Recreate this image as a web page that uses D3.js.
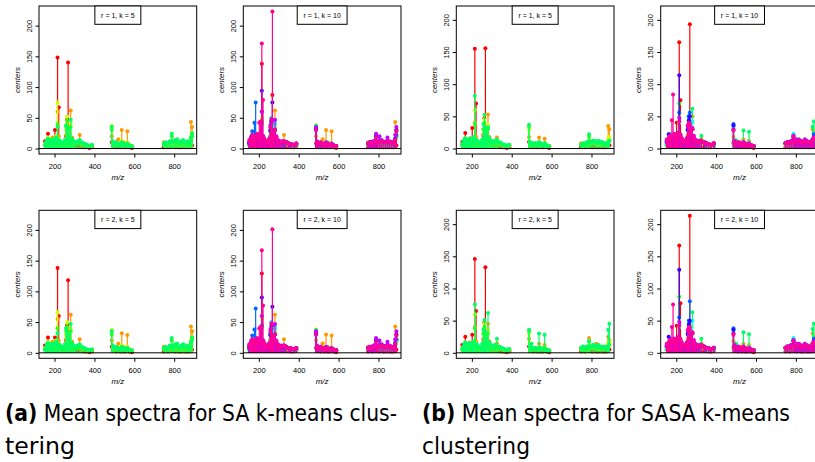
<!DOCTYPE html>
<html><head><meta charset="utf-8">
<script src="https://cdn.jsdelivr.net/npm/d3@7"></script>
<style>body{margin:0;background:#fff}svg{display:block}</style>
</head><body>
<svg id="c" width="815" height="462"></svg>
<script>
// ---- data ----
const mz = [152,157,162,167,172,178,184,190,196,202,208,215,221,228,236,244,252,258,263,268,274,281,288,296,305,315,326,338,350,362,375,388,
  487,492,500,510,520,530,537,545,555,565,575,588,
  748,758,768,778,788,795,805,815,825,835,845,855,865,875,884,890];
const palette = ["#FF0000","#FF9900","#CCFF00","#33FF00","#00FF66","#00FFFF","#0066FF","#3300FF","#CC00FF","#FF0099"];
const xTickValues = [200,400,600,800];
const yTickValues = [0,50,100,150,200];
const captionA = ["(a)", " Mean spectra for SA k-means clus-", "tering"];
const captionB = ["(b)", " Mean spectra for SASA k-means", "clustering"];

const saR1K5 = [
 [12,8,10,24,6,10,5,8, 6,30,10,148,67,8,5,4, 6,20,47,140,10,12,8,6, 5,4,6,3,2,2,1,2, 10,4,3,2,3,2,4,2,2,3,2,1, 2,3,2,3,4,3,2,3, 2,2,3,2,2,2,4,5],
 [6,5,8,14,10,12,8,18, 10,12,15,60,20,10,8,6, 10,22,40,35,25,62,18,12, 10,8,22,6,5,4,3,4, 20,8,6,10,15,8,30,10,8,28,6,4, 10,8,6,8,10,6,8,10, 6,5,8,6,8,10,43,35],
 [8,6,10,18,12,15,10,14, 12,16,20,75,15,10,8,6, 12,30,52,30,20,40,15,10, 10,8,12,8,6,5,4,5, 37,10,6,8,8,6,12,8,6,10,5,4, 6,8,6,8,12,8,10,8, 8,6,8,8,8,6,20,25],
 [5,8,12,15,10,12,8,12, 10,14,16,40,12,10,8,6, 10,36,45,30,20,35,12,10, 8,8,10,8,6,5,4,5, 30,8,6,6,6,5,8,6,5,8,4,3, 6,6,8,10,20,10,12,10, 8,8,10,8,8,6,15,20],
 [6,10,14,16,12,14,10,15, 12,14,18,35,14,12,10,8, 14,38,35,30,22,47,16,12, 10,12,14,10,8,6,5,6, 35,12,8,10,8,6,10,8,6,8,5,4, 8,10,8,12,24,12,14,15, 10,12,14,10,12,10,18,25]
];
const saR1K10 = [
 [10,8,10,12,8,10,6,10, 8,12,15,138,20,10,6,5, 8,20,45,87,15,12,10,6, 5,4,5,3,3,2,2,3, 8,4,3,2,3,2,4,2,2,3,2,1, 2,3,2,3,4,3,2,3, 2,2,3,2,2,2,4,5],
 [6,5,8,12,10,10,8,14, 10,12,15,40,18,10,8,6, 10,22,38,30,25,62,18,12, 10,8,22,6,5,4,3,4, 20,8,6,10,15,8,30,10,8,28,6,4, 10,8,6,8,10,6,8,10, 6,5,8,6,8,10,43,30],
 [5,6,8,12,10,12,8,10, 10,12,14,50,14,10,8,6, 10,28,40,28,20,36,14,10, 8,8,10,8,6,5,4,5, 38,10,6,8,6,5,10,6,5,8,4,3, 6,6,6,8,12,8,10,8, 6,6,8,6,6,6,15,20],
 [5,6,10,12,10,12,8,10, 8,12,14,45,12,10,8,6, 10,30,42,26,18,32,12,10, 8,8,10,8,6,5,4,5, 36,8,6,6,6,5,8,6,5,8,4,3, 6,6,8,8,18,8,10,10, 8,8,8,8,8,6,12,18],
 [6,8,12,14,12,12,10,12, 10,14,16,42,14,12,10,8, 12,34,48,30,22,45,14,12, 10,10,12,10,8,6,5,6, 37,10,8,8,8,6,10,8,6,8,5,4, 8,8,8,10,22,10,12,14, 10,10,12,10,10,8,16,22],
 [8,10,14,16,12,14,10,14, 12,14,16,60,14,12,10,8, 14,30,50,36,22,40,16,12, 10,10,12,10,8,6,5,6, 34,10,8,8,6,6,8,6,6,6,5,4, 8,10,8,10,20,10,12,12, 10,10,12,10,10,8,14,20],
 [10,14,20,28,16,42,75,20, 14,18,22,60,20,14,10,8, 14,28,40,45,22,30,14,12, 10,10,12,10,8,7,6,7, 30,10,8,8,6,6,8,6,6,6,5,4, 8,10,10,12,20,10,14,12, 10,10,14,10,10,8,14,22],
 [8,12,16,20,14,16,12,22, 16,20,24,94,18,12,10,8, 14,30,44,75,22,30,14,12, 10,10,10,10,8,7,6,8, 32,10,8,8,6,6,8,6,6,6,5,4, 8,10,10,12,20,10,12,12, 10,10,12,10,10,8,16,30],
 [10,14,18,22,16,18,14,22, 18,22,24,60,20,14,12,10, 16,38,40,46,24,47,20,14, 12,12,12,10,8,7,6,8, 35,12,8,10,8,6,10,8,6,8,5,4, 8,10,10,12,24,12,20,14, 12,10,18,12,10,10,22,35],
 [14,12,16,22,18,20,16,24, 18,42,44,171,79,16,12,10, 14,34,48,223,24,30,18,12, 10,10,12,10,8,7,6,8, 30,10,8,8,8,6,8,6,6,6,5,4, 8,10,8,10,18,10,12,12, 10,10,12,10,10,8,14,28]
];
const saR2K5 = [
 [12,8,10,25,6,10,5,8, 6,25,10,138,60,8,5,4, 6,20,45,118,10,12,8,6, 5,4,6,3,2,2,1,2, 10,4,3,2,3,2,4,2,2,3,2,1, 2,3,2,3,4,3,2,3, 2,2,3,2,2,2,4,5],
 [6,5,8,14,10,12,8,18, 10,12,15,55,20,10,8,6, 10,22,40,35,25,62,18,12, 10,8,22,6,5,4,3,4, 20,8,6,10,15,8,32,10,8,29,6,4, 10,8,6,8,10,6,8,10, 6,5,8,6,8,10,43,35],
 [8,6,10,18,12,15,10,14, 12,16,20,66,15,10,8,6, 12,30,50,30,20,40,15,10, 10,8,12,8,6,5,4,5, 37,10,6,8,8,6,12,8,6,10,5,4, 6,8,6,8,12,8,10,8, 8,6,8,8,8,6,20,25],
 [5,8,12,15,10,12,8,12, 10,14,16,40,12,10,8,6, 10,36,42,30,20,35,12,10, 8,8,10,8,6,5,4,5, 30,8,6,6,6,5,8,6,5,8,4,3, 6,6,8,10,20,10,12,10, 8,8,10,8,8,6,15,20],
 [6,10,14,16,12,14,10,15, 12,14,18,32,14,12,10,8, 14,40,34,30,22,47,16,12, 10,12,14,10,8,6,5,6, 35,12,8,10,8,6,10,8,6,8,5,4, 8,10,8,12,24,12,14,15, 10,12,14,10,12,10,18,25]
];
const saR2K10 = [
 [10,8,10,12,8,10,6,10, 8,12,15,129,20,10,6,5, 8,20,40,45,15,12,10,6, 5,4,5,3,3,2,2,3, 8,4,3,2,3,2,4,2,2,3,2,1, 2,3,2,3,4,3,2,3, 2,2,3,2,2,2,4,5],
 [6,5,8,12,10,10,8,14, 10,12,15,40,18,10,8,6, 10,22,38,30,25,62,18,12, 10,8,22,6,5,4,3,4, 20,8,6,10,15,8,30,10,8,28,6,4, 10,8,6,8,10,6,8,10, 6,5,8,6,8,10,43,30],
 [5,6,8,12,10,12,8,10, 10,12,14,55,14,10,8,6, 10,28,40,28,20,36,14,10, 8,8,10,8,6,5,4,5, 38,10,6,8,6,5,10,6,5,8,4,3, 6,6,6,8,12,8,10,8, 6,6,8,6,6,6,15,20],
 [5,6,10,12,10,12,8,10, 8,12,14,45,12,10,8,6, 10,30,42,26,18,32,12,10, 8,8,10,8,6,5,4,5, 36,8,6,6,6,5,8,6,5,8,4,3, 6,6,8,8,18,8,10,10, 8,8,8,8,8,6,12,18],
 [6,8,12,14,12,12,10,12, 10,14,16,42,14,12,10,8, 12,34,48,30,22,45,14,12, 10,10,12,10,8,6,5,6, 37,10,8,8,8,6,10,8,6,8,5,4, 8,8,8,10,22,10,12,14, 10,10,12,10,10,8,16,22],
 [8,10,14,16,12,14,10,14, 12,14,16,60,14,12,10,8, 14,30,50,36,22,40,16,12, 10,10,12,10,8,6,5,6, 34,10,8,8,6,6,8,6,6,6,5,4, 8,10,8,10,20,10,12,12, 10,10,12,10,10,8,14,20],
 [10,14,20,28,16,38,72,20, 14,18,22,44,20,14,10,8, 14,28,40,45,22,30,14,12, 10,10,12,10,8,7,6,7, 30,10,8,8,6,6,8,6,6,6,5,4, 8,10,10,12,20,10,14,12, 10,10,14,10,10,8,14,22],
 [8,12,16,20,14,16,12,22, 16,20,24,90,18,12,10,8, 14,30,44,75,22,30,14,12, 10,10,10,10,8,7,6,8, 32,10,8,8,6,6,8,6,6,6,5,4, 8,10,10,12,20,10,12,12, 10,10,12,10,10,8,16,30],
 [10,14,18,22,16,18,14,22, 18,22,24,60,20,14,12,10, 16,38,40,46,24,47,20,14, 12,12,12,10,8,7,6,8, 35,12,8,10,8,6,10,8,6,8,5,4, 8,10,10,12,24,12,20,14, 12,10,18,12,10,10,22,35],
 [14,12,16,22,18,20,16,24, 18,40,42,167,77,16,12,10, 14,34,48,201,24,30,18,12, 10,10,12,10,8,7,6,8, 30,10,8,8,8,6,8,6,6,6,5,4, 8,10,8,10,18,10,12,12, 10,10,12,10,10,8,14,28]
];
const sasaR1K5 = [
 [10,8,10,24,6,10,5,8, 6,32,10,155,70,8,5,4, 6,20,47,156,10,12,8,6, 5,4,6,3,2,2,1,2, 10,4,3,2,3,2,4,2,2,3,2,1, 2,3,2,3,4,3,2,3, 2,2,3,2,2,2,4,5],
 [6,5,8,14,10,12,8,16, 10,12,15,40,18,10,8,6, 10,22,38,30,25,53,18,12, 10,8,17,6,5,4,3,4, 18,6,8,6,8,6,17,8,6,15,5,4, 8,6,6,8,10,6,8,10, 6,5,8,6,6,8,35,30],
 [6,6,8,16,12,12,10,12, 12,14,16,60,14,10,8,6, 10,30,45,28,18,36,14,10, 8,8,10,8,6,5,4,5, 30,8,6,6,6,5,8,6,5,8,4,3, 6,6,6,8,12,8,10,8, 6,6,8,6,6,6,15,18],
 [5,8,10,15,10,12,8,12, 10,12,15,38,12,10,8,6, 10,30,40,28,18,30,12,10, 8,8,10,8,6,5,4,5, 34,8,6,6,6,5,8,6,5,8,4,3, 6,6,6,8,18,8,10,10, 8,8,8,8,6,6,10,12],
 [6,10,14,16,12,14,10,15, 12,14,18,82,14,12,10,8, 14,38,52,32,22,33,16,12, 10,12,14,10,8,6,5,6, 37,10,8,8,8,6,10,8,6,8,5,4, 6,8,8,10,22,10,12,12, 10,12,10,10,8,8,10,12]
];
const sasaR1K10 = [
 [10,8,10,14,8,10,6,10, 8,40,15,165,75,10,6,5, 8,20,36,193,15,12,10,6, 5,4,5,3,3,2,2,3, 8,4,3,2,3,2,4,2,2,3,2,1, 2,3,2,3,4,3,2,3, 2,2,3,2,2,2,4,5],
 [6,5,8,12,10,10,8,14, 10,12,15,40,18,10,8,6, 10,22,38,30,25,50,18,12, 10,8,15,6,5,4,3,4, 18,6,6,8,10,6,14,8,6,12,5,4, 8,6,6,8,10,6,8,12, 6,5,10,6,6,8,30,25],
 [5,6,8,12,10,12,8,10, 10,12,14,50,14,10,8,6, 10,28,40,28,20,40,14,10, 8,8,10,8,6,5,4,5, 30,10,6,8,6,5,10,6,5,8,4,3, 6,6,6,8,12,8,10,8, 6,6,8,6,6,6,15,20],
 [5,6,10,12,10,12,8,10, 8,12,14,70,12,10,8,6, 10,30,42,26,18,32,12,10, 8,8,10,8,6,5,4,5, 30,8,6,6,6,5,8,6,5,8,4,3, 6,6,8,8,18,8,10,10, 8,8,8,8,8,6,12,18],
 [6,8,12,14,12,12,10,12, 10,14,16,42,14,12,10,8, 12,34,48,30,22,62,14,12, 10,10,20,10,8,6,5,6, 35,10,13,8,8,6,28,8,6,26,5,4, 8,8,8,10,20,10,12,14, 10,10,12,10,10,8,34,42],
 [8,10,14,16,12,14,10,14, 12,14,16,40,14,12,10,8, 14,30,50,36,22,42,16,12, 10,10,12,10,8,6,5,6, 34,10,8,8,6,6,8,6,6,6,5,4, 8,10,8,10,23,10,12,12, 10,10,12,10,10,8,14,20],
 [10,12,16,22,14,16,12,20, 14,18,22,56,20,14,10,8, 14,28,50,56,22,30,14,12, 10,10,12,10,8,7,6,7, 38,10,8,8,6,6,8,6,6,6,5,4, 8,10,10,12,20,10,14,12, 10,10,14,10,10,8,14,22],
 [12,14,22,18,14,16,12,22, 16,20,24,114,18,12,10,8, 14,30,44,50,22,30,14,12, 10,10,10,10,8,7,6,8, 36,10,8,8,6,6,8,6,6,6,5,4, 8,10,10,12,18,10,12,12, 10,10,12,10,10,8,14,18],
 [10,14,16,20,16,18,14,22, 18,22,24,48,20,14,12,10, 16,34,36,40,24,32,20,14, 12,12,12,10,8,7,6,8, 30,12,8,10,8,6,10,8,6,8,5,4, 8,10,10,12,20,12,14,14, 12,10,14,12,10,10,14,18],
 [14,12,16,20,18,44,84,22, 18,22,24,42,22,16,12,10, 14,36,40,36,24,30,18,12, 10,10,12,10,8,7,6,8, 28,10,8,8,8,6,8,6,6,6,5,4, 8,10,8,10,18,10,12,12, 10,10,12,10,10,8,14,16]
];
const sasaR2K5 = [
 [12,8,10,25,6,10,5,8, 6,28,10,146,65,8,5,4, 6,20,47,133,10,12,8,6, 5,4,6,3,2,2,1,2, 10,4,3,2,3,2,4,2,2,3,2,1, 2,3,2,3,4,3,2,3, 2,2,3,2,2,2,4,5],
 [6,5,8,14,10,12,8,16, 10,12,15,40,18,10,8,6, 10,22,38,30,25,45,18,12, 10,8,15,6,5,4,3,4, 22,6,8,6,8,6,14,8,6,12,5,4, 8,6,6,10,23,8,8,10, 14,5,8,6,10,8,25,20],
 [6,6,8,16,12,12,10,12, 12,14,16,60,14,10,8,6, 10,30,45,28,18,36,14,10, 8,8,10,8,6,5,4,5, 30,8,6,6,6,5,8,6,5,8,4,3, 6,6,6,8,12,8,10,8, 6,6,8,6,6,6,15,18],
 [5,8,10,15,10,12,8,12, 10,12,15,38,12,10,8,6, 10,30,40,28,18,30,12,10, 8,8,10,8,6,5,4,5, 34,8,6,6,6,5,8,6,5,8,4,3, 6,6,6,8,18,8,10,10, 8,8,8,8,6,6,10,12],
 [6,10,14,16,12,14,10,15, 12,14,18,75,14,12,10,8, 14,36,51,32,22,62,16,12, 10,12,22,10,8,6,5,6, 36,10,14,8,8,6,30,8,6,28,5,4, 8,10,8,10,18,10,12,12, 10,12,10,10,8,10,36,45]
];
const sasaR2K10 = [
 [10,8,10,14,8,10,6,10, 8,42,15,167,77,10,6,5, 8,20,36,213,15,12,10,6, 5,4,5,3,3,2,2,3, 8,4,3,2,3,2,4,2,2,3,2,1, 2,3,2,3,4,3,2,3, 2,2,3,2,2,2,4,5],
 [6,5,8,12,10,10,8,14, 10,12,15,40,18,10,8,6, 10,22,38,30,25,50,18,12, 10,8,15,6,5,4,3,4, 18,6,6,8,10,6,14,8,6,12,5,4, 8,6,6,8,10,6,8,12, 6,5,10,6,6,8,30,25],
 [5,6,8,12,10,12,8,10, 10,12,14,50,14,10,8,6, 10,28,40,28,20,40,14,10, 8,8,10,8,6,5,4,5, 30,10,6,8,6,5,10,6,5,8,4,3, 6,6,6,8,12,8,10,8, 6,6,8,6,6,6,15,20],
 [5,6,10,12,10,12,8,10, 8,12,14,87,12,10,8,6, 10,30,42,26,18,32,12,10, 8,8,10,8,6,5,4,5, 30,8,6,6,6,5,8,6,5,8,4,3, 6,6,8,8,18,8,10,10, 8,8,8,8,8,6,12,18],
 [6,8,12,14,12,12,10,12, 10,14,16,42,14,12,10,8, 12,34,48,30,22,63,14,12, 10,10,22,10,8,6,5,6, 36,10,14,8,8,6,32,8,6,29,5,4, 8,8,8,10,20,10,12,14, 10,10,12,10,10,8,37,45],
 [8,10,14,16,12,14,10,14, 12,14,16,40,14,12,10,8, 14,30,50,36,22,50,16,12, 10,10,12,10,8,6,5,6, 34,10,8,8,6,6,8,6,6,6,5,4, 8,10,8,10,23,10,12,12, 10,10,12,10,10,8,14,20],
 [10,12,16,22,14,16,12,20, 14,18,22,55,20,14,10,8, 14,28,50,80,22,30,14,12, 10,10,12,10,8,7,6,7, 38,10,8,8,6,6,8,6,6,6,5,4, 8,10,10,12,20,10,14,12, 10,10,14,10,10,8,14,22],
 [12,14,25,18,14,16,12,22, 16,20,24,129,18,12,10,8, 14,30,44,50,22,30,14,12, 10,10,10,10,8,7,6,8, 36,10,8,8,6,6,8,6,6,6,5,4, 8,10,10,12,18,10,12,12, 10,10,12,10,10,8,14,18],
 [10,14,16,20,16,18,14,22, 18,22,24,48,20,14,12,10, 16,34,36,40,24,32,20,14, 12,12,12,10,8,7,6,8, 30,12,8,10,8,6,10,8,6,8,5,4, 8,10,10,12,20,12,14,14, 12,10,14,12,10,10,14,18],
 [14,12,16,20,18,40,75,22, 18,22,24,42,22,16,12,10, 14,36,40,36,24,30,18,12, 10,10,12,10,8,7,6,8, 28,10,8,8,8,6,8,6,6,6,5,4, 8,10,8,10,18,10,12,12, 10,10,12,10,10,8,14,16]
];

// ---- layout ----
const svg = d3.select('#c');
const PW = 157.7, PH = 148;
const lefts = [39, 243.3, 456.3, 660.7];
const tops = [6, 210.3];
const xlim = [122, 913];
const font = "'Liberation Sans', Arial, Helvetica, sans-serif";
const capFont = "'Liberation Sans Narrow', 'DejaVu Sans Condensed', 'Liberation Sans', sans-serif";

const panels = [
  {d: saR1K5, r: 1, k: 5, c: 0, row: 0, g: 'a'},
  {d: saR1K10, r: 1, k: 10, c: 1, row: 0, g: 'a'},
  {d: sasaR1K5, r: 1, k: 5, c: 2, row: 0, g: 'b'},
  {d: sasaR1K10, r: 1, k: 10, c: 3, row: 0, g: 'b'},
  {d: saR2K5, r: 2, k: 5, c: 0, row: 1, g: 'a'},
  {d: saR2K10, r: 2, k: 10, c: 1, row: 1, g: 'a'},
  {d: sasaR2K5, r: 2, k: 5, c: 2, row: 1, g: 'b'},
  {d: sasaR2K10, r: 2, k: 10, c: 3, row: 1, g: 'b'}
];
const maxOf = grp => d3.max(panels.filter(p => p.g === grp).map(p => d3.max(p.d.flat())));
const gmax = {a: maxOf('a'), b: maxOf('b')};

panels.forEach(p => {
  const left = lefts[p.c], top = tops[p.row];
  const M = gmax[p.g];
  const x = d3.scaleLinear().domain(xlim).range([left, left + PW]);
  const y = d3.scaleLinear().domain([-0.04 * M, 1.04 * M]).range([top + PH, top]);
  const g = svg.append('g');

  p.d.forEach((ser, si) => {
    const col = palette[si];
    const pts = ser.map((v, i) => ({m: mz[i], v})).filter(d => d.v != null && d.m != null);
    const sg = g.append('g');
    sg.selectAll('line').data(pts).join('line')
      .attr('x1', d => x(d.m)).attr('x2', d => x(d.m))
      .attr('y1', y(0)).attr('y2', d => y(d.v))
      .attr('stroke', col).attr('stroke-width', 1.2);
    sg.selectAll('circle').data(pts).join('circle')
      .attr('cx', d => x(d.m)).attr('cy', d => y(d.v)).attr('r', 2)
      .attr('fill', col);
  });

  g.append('line').attr('x1', left).attr('x2', left + PW)
    .attr('y1', y(0)).attr('y2', y(0)).attr('stroke', '#000').attr('stroke-width', 1);
  g.append('rect').attr('x', left).attr('y', top).attr('width', PW).attr('height', PH)
    .attr('fill', 'none').attr('stroke', '#000').attr('stroke-width', 1);

  const xa = g.append('g').attr('transform', `translate(0,${top + PH})`)
    .call(d3.axisBottom(x).tickValues(xTickValues).tickSize(3.5).tickPadding(5.7));
  xa.select('.domain').remove();
  xa.attr('font-size', 7.5).attr('font-family', font);
  xa.selectAll('text').attr('fill', '#000');
  xa.selectAll('line').attr('stroke', '#000');

  const ya = g.append('g').attr('transform', `translate(${left},0)`)
    .call(d3.axisLeft(y).tickValues(yTickValues).tickSize(3.5));
  ya.select('.domain').remove();
  ya.attr('font-size', 7.5).attr('font-family', font);
  ya.selectAll('line').attr('stroke', '#000');
  ya.selectAll('text').attr('x', 0).attr('dy', 0).attr('text-anchor', 'middle')
    .attr('fill', '#000').attr('transform', 'translate(-7.3,0) rotate(-90)');

  g.append('text').attr('transform', `translate(${left - 19.5},${top + PH / 2}) rotate(-90)`)
    .attr('text-anchor', 'middle').attr('font-size', 8).attr('font-style', 'italic')
    .attr('fill', '#000').attr('font-family', font).text('centers');
  g.append('text').attr('x', left + PW / 2).attr('y', top + PH + 26)
    .attr('text-anchor', 'middle').attr('font-size', 8).attr('font-style', 'italic')
    .attr('fill', '#000').attr('font-family', font).text('m/z');

  const lg = g.append('g');
  const box = lg.append('rect');
  const lbl = lg.append('text').attr('x', left + PW / 2).attr('y', top + 11.7)
    .attr('text-anchor', 'middle').attr('font-size', 7).attr('font-family', font)
    .attr('fill', '#000').text(`r = ${p.r}, k = ${p.k}`);
  const tw = lbl.node().getComputedTextLength();
  box.attr('x', left + PW / 2 - (tw + 12.5) / 2).attr('y', top)
    .attr('width', tw + 12.5).attr('height', 18.3)
    .attr('fill', '#fff').attr('stroke', '#000').attr('stroke-width', 1);
});

// ---- captions ----
function caption(x0, parts, w1, w2) {
  const t = svg.append('text').attr('x', x0).attr('y', 421).attr('font-size', 23)
    .attr('font-family', capFont).attr('fill', '#000')
    .attr('textLength', w1).attr('lengthAdjust', 'spacingAndGlyphs');
  t.append('tspan').attr('font-weight', 'bold').text(parts[0]);
  t.append('tspan').text(parts[1]);
  svg.append('text').attr('x', x0).attr('y', 454).attr('font-size', 23)
    .attr('font-family', capFont).attr('fill', '#000')
    .attr('textLength', w2).attr('lengthAdjust', 'spacingAndGlyphs')
    .text(parts[2]);
}
caption(5, captionA, 392, 70);
caption(422, captionB, 368, 108);
</script>
</body></html>
